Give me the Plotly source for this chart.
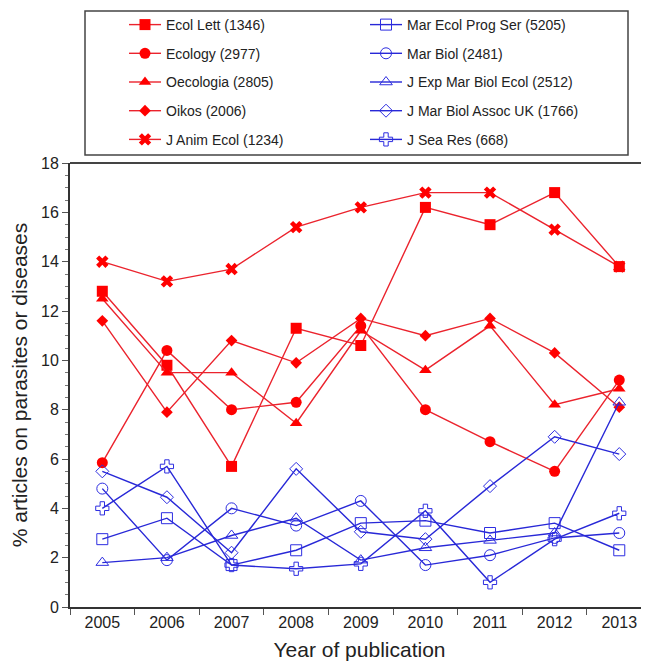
import plotly.graph_objects as go

years = ["2005", "2006", "2007", "2008", "2009", "2010", "2011", "2012", "2013"]

ecol_lett = [12.8, 9.8, 5.7, 11.3, 10.6, 16.2, 15.5, 16.8, 13.8]
ecology = [5.85, 10.4, 8.0, 8.3, 11.4, 8.0, 6.7, 5.5, 9.2]
oecologia = [12.5, 9.5, 9.5, 7.45, 11.2, 9.6, 11.4, 8.2, 8.85]
oikos = [11.6, 7.9, 10.8, 9.9, 11.7, 11.0, 11.7, 10.3, 8.1]
j_anim_ecol = [14.0, 13.2, 13.7, 15.4, 16.2, 16.8, 16.8, 15.3, 13.8]

mar_ecol_prog_ser = [2.75, 3.6, 1.7, 2.3, 3.4, 3.5, 3.0, 3.4, 2.3]
mar_biol = [4.8, 1.9, 4.0, 3.3, 4.3, 1.7, 2.1, 2.8, 3.0]
j_exp_mar_biol_ecol = [1.8, 2.0, 2.9, 3.6, 1.9, 2.4, 2.7, 3.0, 8.3]
j_mar_biol_assoc_uk = [5.5, 4.45, 2.2, 5.6, 3.05, 2.75, 4.9, 6.9, 6.2]
j_sea_res = [4.0, 5.7, 1.7, 1.55, 1.75, 3.9, 1.0, 2.75, 3.8]

names_red = ["Ecol Lett (1346)", "Ecology (2977)", "Oecologia (2805)", "Oikos (2006)", "J Anim Ecol (1234)"]
names_blue = ["Mar Ecol Prog Ser (5205)", "Mar Biol (2481)", "J Exp Mar Biol Ecol (2512)",
              "J Mar Biol Assoc UK (1766)", "J Sea Res (668)"]
series_red = [ecol_lett, ecology, oecologia, oikos, j_anim_ecol]
series_blue = [mar_ecol_prog_ser, mar_biol, j_exp_mar_biol_ecol, j_mar_biol_assoc_uk, j_sea_res]

sym_red = ["square", "circle", "triangle-up", "diamond", "x"]
size_red = [11, 11, 11, 9, 11]
sym_blue = ["square-open", "circle-open", "triangle-up-open", "diamond-open", "cross-open"]
size_blue = [11, 11, 11, 10, 11]

RED = "rgb(255,0,0)"
RED_LINE = "rgb(235,35,45)"
BLUE = "rgb(45,45,225)"
BLUE_LINE = "rgb(40,40,215)"

fig = go.Figure()
for i, (n, s) in enumerate(zip(names_red, series_red)):
    fig.add_trace(go.Scatter(
        x=years, y=s, name=n, mode="lines+markers",
        line=dict(color=RED_LINE, width=1.4),
        marker=dict(symbol=sym_red[i], size=size_red[i], color=RED,
                    line=dict(width=0)),
        legend="legend", legendgroup="r%d" % i))
for i, (n, s) in enumerate(zip(names_blue, series_blue)):
    fig.add_trace(go.Scatter(
        x=years, y=s, name=n, mode="lines+markers",
        line=dict(color=BLUE_LINE, width=1.4),
        marker=dict(symbol=sym_blue[i], size=size_blue[i], color=BLUE,
                    line=dict(width=1, color=BLUE)),
        legend="legend2", legendgroup="b%d" % i))

# page has an 8px body margin; figure coordinates = page coordinates - 8
OFF = 8
W, H = 641, 654
L, R, T, B = 62, 0, 155, 55
pw, ph = W - L - R, H - T - B

def px_x(p):
    return (p - OFF - L) / pw

def px_y(p):
    return (H - B - (p - OFF)) / ph

legend_font = dict(family="Liberation Sans, Arial, sans-serif", size=14, color="#222")

fig.update_layout(
    width=W, height=H,
    margin=dict(l=L, r=R, t=T, b=B, autoexpand=False),
    paper_bgcolor="white", plot_bgcolor="white",
    font=dict(family="Liberation Sans, Arial, sans-serif", color="#222"),
    legend=dict(x=px_x(124), y=px_y(9), xanchor="left", yanchor="top",
                font=legend_font, tracegroupgap=7.5, bgcolor="rgba(0,0,0,0)",
                borderwidth=0, itemwidth=32),
    legend2=dict(x=px_x(365), y=px_y(9), xanchor="left", yanchor="top",
                 font=legend_font, tracegroupgap=7.5, bgcolor="rgba(0,0,0,0)",
                 borderwidth=0, itemwidth=32),
    xaxis=dict(
        type="category", range=[-0.5, 8.46],
        showline=True, linecolor="#333", linewidth=2,
        ticks="outside", tickson="boundaries", ticklen=6, tickcolor="#555", tickwidth=1,
        tickfont=dict(size=16, color="#222"),
        showgrid=False, zeroline=False,
        title=dict(text="Year of publication", font=dict(size=21, color="#222"), standoff=12),
        automargin=False,
    ),
    yaxis=dict(
        range=[0, 18], dtick=2,
        showline=True, linecolor="#333", linewidth=2,
        ticks="outside", ticklen=6, tickcolor="#555", tickwidth=1,
        minor=dict(dtick=0.5, ticks="outside", ticklen=3, tickcolor="#777", tickwidth=1),
        tickfont=dict(size=16, color="#222"),
        showgrid=False, zeroline=False,
        title=dict(text="% articles on parasites or diseases", font=dict(size=21, color="#222"), standoff=16),
        automargin=False,
    ),
    shapes=[
        dict(type="line", xref="paper", yref="paper", x0=0, x1=1, y0=1, y1=1,
             line=dict(color="#444", width=2)),
        dict(type="rect", xref="paper", yref="paper",
             x0=px_x(85), x1=px_x(628), y0=px_y(155), y1=px_y(11),
             line=dict(color="#444", width=1.5), fillcolor="rgba(0,0,0,0)"),
    ],
)

fig.write_html("out.html")
